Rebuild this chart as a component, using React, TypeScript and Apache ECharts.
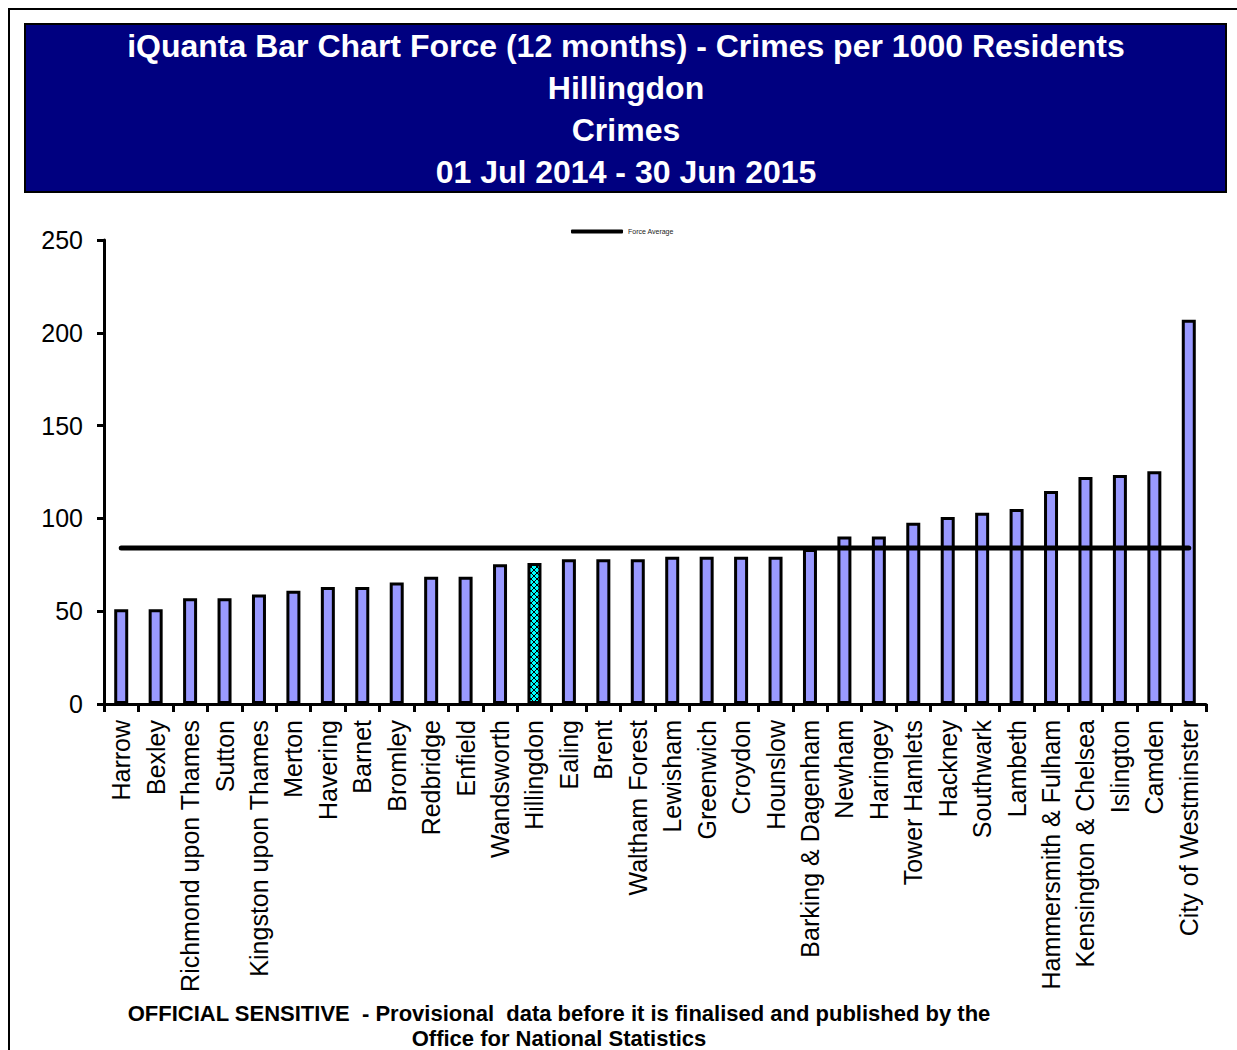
import React, { useEffect, useRef } from "react";
import * as echarts from "echarts";

const categories = [
  "Harrow", "Bexley", "Richmond upon Thames", "Sutton", "Kingston upon Thames",
  "Merton", "Havering", "Barnet", "Bromley", "Redbridge", "Enfield", "Wandsworth",
  "Hillingdon", "Ealing", "Brent", "Waltham Forest", "Lewisham", "Greenwich",
  "Croydon", "Hounslow", "Barking & Dagenham", "Newham", "Haringey", "Tower Hamlets",
  "Hackney", "Southwark", "Lambeth", "Hammersmith & Fulham", "Kensington & Chelsea",
  "Islington", "Camden", "City of Westminster",
];

const crimesPer1000 = [
  51, 51, 57, 57, 59, 61, 63, 63, 65.5, 68.5, 68.5, 75.3,
  76, 78, 78, 78, 79.4, 79.4, 79.4, 79.4, 83.5, 90.2, 90.2, 97.7,
  100.8, 103, 105, 114.8, 122.3, 123.4, 125.4, 207,
];

const FORCE_AVERAGE = 84;
const HIGHLIGHT = "Hillingdon";

const titleLines = [
  "iQuanta Bar Chart Force (12 months) - Crimes per 1000 Residents",
  "Hillingdon",
  "Crimes",
  "01 Jul 2014 - 30 Jun 2015",
];

const footerLines = [
  "OFFICIAL SENSITIVE  - Provisional  data before it is finalised and published by the",
  "Office for National Statistics",
];

const yTicks = [0, 50, 100, 150, 200, 250];

const FONT = "'Liberation Sans', Arial, sans-serif";

function makeHatch(): HTMLCanvasElement {
  const c = document.createElement("canvas");
  c.width = 6;
  c.height = 6;
  const ctx = c.getContext("2d")!;
  ctx.fillStyle = "#00FFFF";
  ctx.fillRect(0, 0, 6, 6);
  ctx.strokeStyle = "#000000";
  ctx.lineWidth = 1;
  ctx.beginPath();
  ctx.moveTo(0, 0);
  ctx.lineTo(6, 6);
  ctx.moveTo(6, 0);
  ctx.lineTo(0, 6);
  ctx.stroke();
  return c;
}

export default function App() {
  const ref = useRef<HTMLDivElement>(null);

  useEffect(() => {
    document.body.style.margin = "0";
    if (!ref.current) return;
    const chart = echarts.init(ref.current, undefined, { renderer: "svg" });
    const hatch = makeHatch();

    const barData = categories.map((name, i) => {
      if (name === HIGHLIGHT) {
        return {
          value: crimesPer1000[i],
          itemStyle: {
            color: { image: hatch, repeat: "repeat" } as any,
          },
        };
      }
      return crimesPer1000[i];
    });

    const titleTexts = titleLines.map((t, i) => ({
      type: "text",
      x: 626,
      y: 46 + i * 42,
      style: {
        text: t,
        fill: "#ffffff",
        font: `bold 32px ${FONT}`,
        align: "center",
        verticalAlign: "middle",
      },
      z: 10,
    }));

    const footerTexts = footerLines.map((t, i) => ({
      type: "text",
      x: 559,
      y: 1013 + i * 25,
      style: {
        text: t,
        fill: "#000",
        font: `bold 22px ${FONT}`,
        align: "center",
        verticalAlign: "middle",
      },
      z: 5,
    }));

    chart.setOption({
      animation: false,
      backgroundColor: "#ffffff",
      textStyle: { fontFamily: FONT },
      legend: {
        data: ["Force Average"],
        left: 566,
        top: 223,
        icon: "roundRect",
        itemWidth: 52,
        itemHeight: 4,
        itemGap: 4,
        textStyle: { fontSize: 7, color: "#222222", fontFamily: FONT },
      },
      graphic: [
        {
          type: "line",
          shape: { x1: 9, y1: 9, x2: 9, y2: 1050 },
          style: { stroke: "#000", lineWidth: 2 },
          z: 1,
        },
        {
          type: "line",
          shape: { x1: 8, y1: 9, x2: 1237, y2: 9 },
          style: { stroke: "#000", lineWidth: 2 },
          z: 1,
        },
        {
          type: "rect",
          shape: { x: 25, y: 24, width: 1201, height: 168 },
          style: { fill: "#000080", stroke: "#000", lineWidth: 2 },
          z: 1,
        },
        ...titleTexts,
        ...footerTexts,
      ],
      grid: { left: 104, right: 31, top: 240, bottom: 346, containLabel: false },
      xAxis: {
        type: "category",
        data: categories,
        boundaryGap: true,
        axisLine: { lineStyle: { color: "#000", width: 3 } },
        axisTick: { show: true, length: 8, lineStyle: { color: "#000", width: 3 } },
        axisLabel: {
          rotate: 90,
          interval: 0,
          margin: 16,
          fontSize: 25,
          color: "#000",
          fontFamily: FONT,
        },
      },
      yAxis: {
        type: "value",
        min: yTicks[0],
        max: yTicks[yTicks.length - 1],
        interval: 50,
        splitLine: { show: false },
        axisLine: { show: true, lineStyle: { color: "#000", width: 3 } },
        axisTick: { show: true, length: 7, lineStyle: { color: "#000", width: 3 } },
        axisLabel: { fontSize: 25, color: "#000", margin: 21, fontFamily: FONT },
      },
      series: [
        {
          name: "Crimes",
          type: "bar",
          data: barData,
          barWidth: 14,
          itemStyle: { color: "#9999FF", borderColor: "#000", borderWidth: 3 },
          z: 2,
        },
        {
          name: "Force Average",
          type: "line",
          data: categories.map(() => FORCE_AVERAGE),
          symbol: "none",
          lineStyle: { color: "#000", width: 5, cap: "round" },
          itemStyle: { color: "#000" },
          z: 3,
        },
      ],
    });

    return () => chart.dispose();
  }, []);

  return <div ref={ref} style={{ width: 1237, height: 1050 }} />;
}
